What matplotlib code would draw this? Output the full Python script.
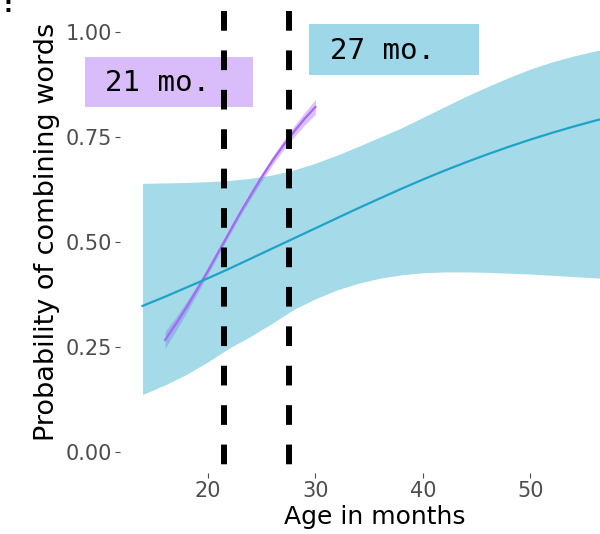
import matplotlib.pyplot as plt
from matplotlib.patches import Rectangle

# Fitted curve for all children
ages_all = [13.9, 16, 18, 20, 22, 24, 26, 28, 30, 32, 34, 36, 38, 40, 42, 44, 46, 48,
            50, 52, 54, 56, 58]
prob_all = [0.348, 0.37, 0.392, 0.414, 0.437, 0.461, 0.485, 0.509, 0.533, 0.557, 0.581,
            0.604, 0.627, 0.649, 0.67, 0.69, 0.709, 0.727, 0.744, 0.76, 0.775, 0.789, 0.802]
upper_all = [0.64, 0.641, 0.642, 0.644, 0.647, 0.652, 0.66, 0.672, 0.688, 0.707, 0.728,
             0.75, 0.772, 0.797, 0.822, 0.847, 0.87, 0.892, 0.912, 0.929, 0.943, 0.955, 0.964]
lower_all = [0.137, 0.16, 0.185, 0.215, 0.248, 0.276, 0.307, 0.34, 0.365, 0.386, 0.402,
             0.414, 0.422, 0.427, 0.429, 0.429, 0.428, 0.426, 0.424, 0.421, 0.418, 0.415, 0.412]

# Fitted curve for the younger group
ages_young = [16, 17, 18, 19, 20, 21, 22, 23, 24, 25, 26, 27, 28, 29, 30]
prob_young = [0.267, 0.305, 0.345, 0.388, 0.432, 0.478, 0.524, 0.57, 0.613, 0.655, 0.694,
              0.73, 0.763, 0.794, 0.822]
upper_young = [0.287, 0.321, 0.358, 0.398, 0.44, 0.485, 0.531, 0.577, 0.621, 0.664, 0.704,
               0.741, 0.776, 0.809, 0.84]
lower_young = [0.247, 0.289, 0.332, 0.378, 0.424, 0.471, 0.517, 0.563, 0.605, 0.646, 0.684,
               0.719, 0.75, 0.779, 0.804]

cutoffs = [21.5, 27.5]

# Label boxes: text, text anchor, box extents
label_texts = ['21 mo.', '27 mo.']
label_x = [10.4, 31.4]
label_y = [0.879, 0.955]
box_x = [(8.54, 24.2), (29.4, 45.2)]
box_y = [(0.821, 0.940), (0.898, 1.019)]

blue = '#1ea3c8'
purple = '#a867f4'
font = 'DejaVu Sans'

fig = plt.figure(figsize=(6, 5.34), dpi=100)
ax = fig.add_axes([0.2, 0.1142, 0.85, 0.8648])

ax.fill_between(ages_young, lower_young, upper_young, color=purple, alpha=0.4, lw=0)
ax.plot(ages_young, prob_young, color=purple, lw=1.6)
ax.fill_between(ages_all, lower_all, upper_all, color=blue, alpha=0.4, lw=0)
ax.plot(ages_all, prob_all, color=blue, lw=1.6)

for c in cutoffs:
    ax.plot([c, c], [1.05, -0.05], color='black', lw=4.3, dashes=(3.3, 3.3))

for txt, lx, ly, bx, by, col in zip(label_texts, label_x, label_y, box_x, box_y, [purple, blue]):
    ax.add_patch(Rectangle((bx[0], by[0]), bx[1] - bx[0], by[1] - by[0], facecolor=col,
                           alpha=0.43, edgecolor='none', clip_on=False))
    ax.text(lx, ly, txt, family='DejaVu Sans Mono', fontsize=21, ha='left', va='center',
            clip_on=False)

ax.set_xlim(11.8, 59.3)
ax.set_ylim(-0.05, 1.05)
ax.set_xticks([20, 30, 40, 50])
ax.set_yticks([0, 0.25, 0.5, 0.75, 1.0])
ax.set_yticklabels(['0.00', '0.25', '0.50', '0.75', '1.00'])
for s in ax.spines.values():
    s.set_visible(False)
ax.tick_params(length=3.5, width=0.8, color='#4d4d4d', labelcolor='#4d4d4d',
               labelsize=15, pad=2)
for t in ax.get_xticklabels() + ax.get_yticklabels():
    t.set_family(font)

ax.set_xlabel('Age in months', family=font, fontsize=18, labelpad=3)
ax.set_ylabel('Probability of combining words', family=font, fontsize=19.5)
ax.yaxis.set_label_coords(-0.117, 0.522)

fig.text(0.0133, 0.9775, ':', fontsize=16, fontweight='bold', ha='center', va='baseline')

fig.savefig('out.png', dpi=100)
